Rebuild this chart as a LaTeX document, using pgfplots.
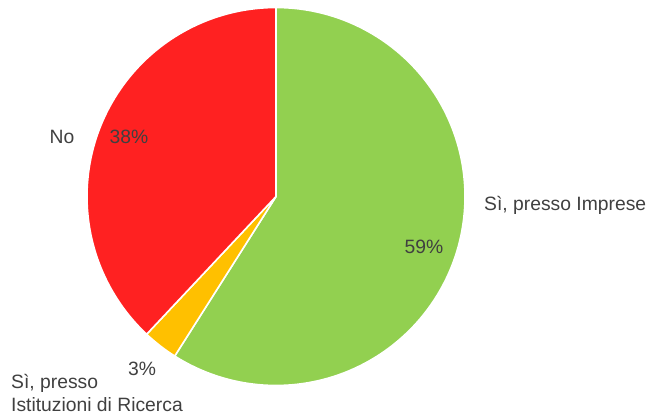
\documentclass[border=0pt]{standalone}
\usepackage{pgfplots}
\pgfplotsset{compat=1.18}
\usepackage{fontspec}
\setmainfont{Liberation Sans}
\definecolor{cgreen}{HTML}{92D050}
\definecolor{cyellow}{HTML}{FFC000}
\definecolor{cred}{HTML}{FF2121}
\definecolor{ctext}{HTML}{404040}
% shares (percent)
\def\pImp{59}
\def\pIst{3}
\def\pNo{38}
\begin{document}
\begin{tikzpicture}[lbl/.style={text=ctext, font=\fontsize{19.3bp}{23bp}\selectfont}]
\useasboundingbox (0,0) rectangle (651bp,417bp);
\begin{axis}[
  at={(0,0)}, anchor=south west,
  width=651bp, height=417bp, scale only axis,
  xmin=0, xmax=651, ymin=0, ymax=417,
  hide axis, clip=false,
]
\pgfmathsetmacro{\aA}{90}
\pgfmathsetmacro{\aB}{90-3.6*\pImp}
\pgfmathsetmacro{\aC}{\aB-3.6*\pIst}
\pgfmathsetmacro{\aD}{\aC-3.6*\pNo}
\addplot[fill=cgreen, draw=white, line width=1.6bp, domain=\aA:\aB, samples=120, variable=\t]
  ({276+189*cos(\t)},{220.5+189*sin(\t)}) -- (axis cs:276,220.5) -- cycle;
\addplot[fill=cyellow, draw=white, line width=1.6bp, domain=\aB:\aC, samples=10, variable=\t]
  ({276+189*cos(\t)},{220.5+189*sin(\t)}) -- (axis cs:276,220.5) -- cycle;
\addplot[fill=cred, draw=white, line width=1.6bp, domain=\aC:\aD, samples=90, variable=\t]
  ({276+189*cos(\t)},{220.5+189*sin(\t)}) -- (axis cs:276,220.5) -- cycle;
\node[lbl, anchor=west, inner sep=0pt] at (axis cs:484,212) {Sì, presso Imprese};
\node[lbl] at (axis cs:424,170) {59\%};
\node[lbl] at (axis cs:62,280) {No};
\node[lbl] at (axis cs:129,280) {38\%};
\node[lbl] at (axis cs:142,48) {3\%};
\node[lbl, anchor=west, align=left, inner sep=0pt] at (axis cs:11,24) {Sì, presso\\Istituzioni di Ricerca};
\end{axis}
\end{tikzpicture}
\end{document}
